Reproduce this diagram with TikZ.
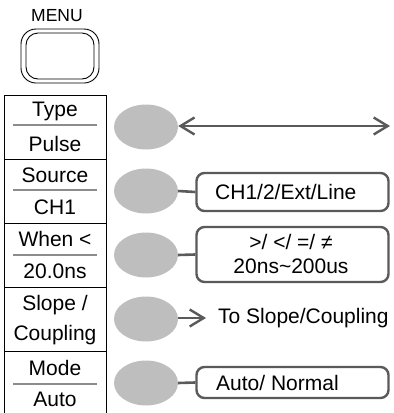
\documentclass[tikz,border=0pt]{standalone}
\usepackage{fontspec}
\setmainfont{Liberation Sans}
\usetikzlibrary{shapes.geometric,arrows.meta}
\definecolor{conn}{RGB}{90,90,90}
\definecolor{btnfill}{RGB}{190,190,190}
\definecolor{divgray}{RGB}{140,140,140}
\tikzset{
  lbl/.style={font=\fontsize{21}{24}\selectfont, inner sep=0pt, text=black},
  rowbox/.style={draw=black, line width=0.9pt, minimum width=102pt, minimum height=64pt, inner sep=0pt},
  softkey/.style={ellipse, fill=btnfill, draw=none, minimum width=64pt, minimum height=45pt, inner sep=0pt},
  optbox/.style={draw=conn, line width=2.4pt, rounded corners=8pt, inner sep=0pt, minimum width=192pt},
  conline/.style={draw=conn, line width=2.6pt},
  divline/.style={draw=divgray, line width=1.2pt},
  barb/.style={-{Straight Barb[length=14pt,width=17pt,line width=2.4pt]}},
}
\begin{document}
\begin{tikzpicture}[x=1pt,y=-1pt]
\useasboundingbox (0,0) rectangle (394,413);
% MENU button
\node[font=\fontsize{17.5}{20}\selectfont, inner sep=0pt] (menutxt) at (57,16) {MENU};
\node[draw=black, line width=0.9pt, rounded corners=15pt, minimum width=78pt, minimum height=54pt, inner sep=0pt] (menuout) at (60,56) {};
\node[draw=black, line width=0.9pt, rounded corners=12pt, minimum width=68pt, minimum height=46pt, inner sep=0pt] (menuin) at (60,56) {};
% menu table rows
\node[rowbox] (r1) at (55,127) {};
\node[rowbox] (r2) at (55,191) {};
\node[rowbox] (r3) at (55,255) {};
\node[rowbox] (r4) at (55,319) {};
\node[rowbox] (r5) at (55,383) {};
% dividers
\coordinate (d1a) at (13,125); \coordinate (d1b) at (97,125);
\coordinate (d2a) at (13,190); \coordinate (d2b) at (97,190);
\coordinate (d3a) at (13,255); \coordinate (d3b) at (97,255);
\coordinate (d5a) at (13,384); \coordinate (d5b) at (97,384);
\draw[divline] (d1a) -- (d1b);
\draw[divline] (d2a) -- (d2b);
\draw[divline] (d3a) -- (d3b);
\draw[divline] (d5a) -- (d5b);
% row texts
\node[lbl] (t1a) at (55,111) {Type};
\node[lbl] (t1b) at (55,144) {Pulse};
\node[lbl] (t2a) at (55,175) {Source};
\node[lbl] (t2b) at (55,207) {CH1};
\node[lbl] (t3a) at (55,239) {When <};
\node[lbl] (t3b) at (55,271) {20.0ns};
\node[lbl] (t4a) at (55,305) {Slope /};
\node[lbl] (t4b) at (55,335) {Coupling};
\node[lbl] (t5a) at (55,368) {Mode};
\node[lbl] (t5b) at (55,399) {Auto};
% soft keys
\node[softkey] (k1) at (146,127) {};
\node[softkey] (k2) at (146,191) {};
\node[softkey] (k3) at (146,255) {};
\node[softkey] (k4) at (146,319) {};
\node[softkey] (k5) at (146,383) {};
% option 1: double arrow
\coordinate (e1) at (390,126);
\draw[conline, {Straight Barb[length=14pt,width=17pt,line width=2.4pt]}-{Straight Barb[length=14pt,width=17pt,line width=2.4pt]}] (k1.east |- e1) -- (e1);
% option 2
\node[optbox, minimum height=38pt] (o2) at (292.5,192) {};
\node[lbl, anchor=west] (o2t) at (215,192) {CH1/2/Ext/Line};
\draw[conline] (k2.east) -- (o2.west);
% option 3
\node[optbox, minimum height=55pt] (o3) at (292.5,254.5) {};
\node[lbl] (o3a) at (291,242) {>/ </ =/ ≠};
\node[lbl] (o3b) at (291,266) {20ns\char`\~200us};
\draw[conline] (k3.east) -- (o3.west);
% option 4
\node[lbl, anchor=west] (o4t) at (218,318) {To Slope/Coupling};
\coordinate (a4) at (206,318);
\draw[conline, barb] (k4.east |- a4) -- (a4);
% option 5
\node[optbox, minimum height=31pt] (o5) at (292.5,382.5) {};
\node[lbl, anchor=west] (o5t) at (216,382.5) {Auto/ Normal};
\draw[conline] (k5.east) -- (o5.west);
\end{tikzpicture}
\end{document}
